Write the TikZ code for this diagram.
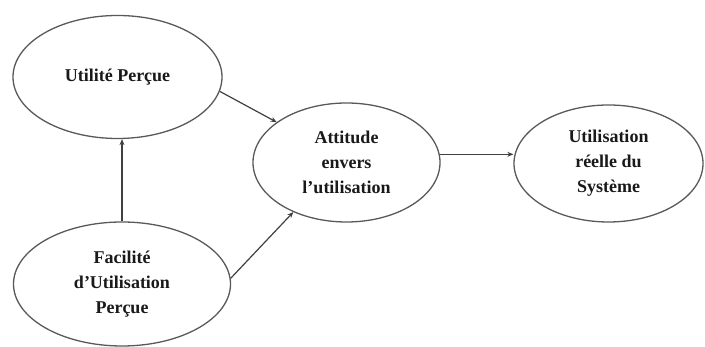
\documentclass[tikz,border=0pt]{standalone}
\usepackage{fontspec}
\setmainfont{Liberation Serif}
\usetikzlibrary{shapes.geometric,arrows.meta}
\begin{document}
\begin{tikzpicture}[x=1pt,y=1pt,
  construct/.style={ellipse,draw=black!65,line width=1.3pt,inner sep=0pt,
    font=\fontsize{18}{25}\selectfont\bfseries,align=center,text=black!90},
  link/.style={draw=black!75,line width=1.2pt,-{Stealth[length=6pt,width=5pt]}}]
\useasboundingbox (0,0) rectangle (705,347);
% constructs of the model
\node[construct,minimum width=209pt,minimum height=123pt] (ut) at (117.5,270) {Utilité Perçue};
\node[construct,minimum width=217pt,minimum height=124pt] (fac) at (122,63) {Facilité\\d’Utilisation\\Perçue};
\node[construct,minimum width=187pt,minimum height=119pt] (att) at (346.5,184.5) {Attitude\\envers\\l’utilisation};
\node[construct,minimum width=189pt,minimum height=117pt] (use) at (608.5,183.5) {Utilisation\\réelle du\\Système};
% relations
\draw[link] (ut.-8) -- (att.150);
\draw[link] (fac.3) -- (att.223);
\draw[link] (fac.north) -- (fac.north |- ut.south);
\draw[link] (att.5) -- (att.5 -| use.west);
\end{tikzpicture}
\end{document}
